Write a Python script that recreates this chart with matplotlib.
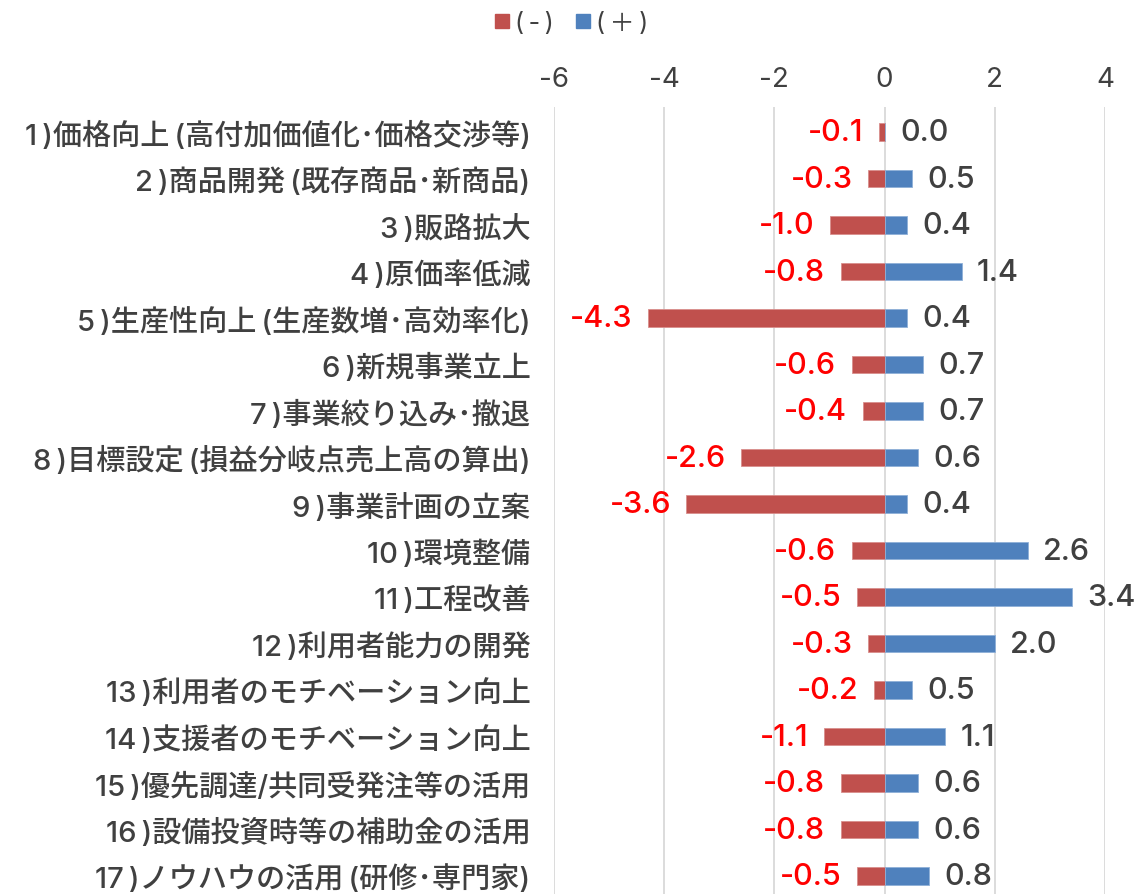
import matplotlib
matplotlib.use("Agg")
import matplotlib.pyplot as plt
from matplotlib.lines import Line2D

FONTS = ['Inter', 'Noto Sans CJK JP', 'DejaVu Sans']
plt.rcParams['font.family'] = FONTS

categories = [
    "1)価格向上(高付加価値化･価格交渉等)",
    "2)商品開発(既存商品･新商品)",
    "3)販路拡大",
    "4)原価率低減",
    "5)生産性向上(生産数増･高効率化)",
    "6)新規事業立上",
    "7)事業絞り込み･撤退",
    "8)目標設定(損益分岐点売上高の算出)",
    "9)事業計画の立案",
    "10)環境整備",
    "11)工程改善",
    "12)利用者能力の開発",
    "13)利用者のモチベーション向上",
    "14)支援者のモチベーション向上",
    "15)優先調達/共同受発注等の活用",
    "16)設備投資時等の補助金の活用",
    "17)ノウハウの活用(研修･専門家)",
]
negative = [-0.1, -0.3, -1.0, -0.8, -4.3, -0.6, -0.4, -2.6, -3.6,
            -0.6, -0.5, -0.3, -0.2, -1.1, -0.8, -0.8, -0.5]
positive = [0.0, 0.5, 0.4, 1.4, 0.4, 0.7, 0.7, 0.6, 0.4,
            2.6, 3.4, 2.0, 0.5, 1.1, 0.6, 0.6, 0.8]
series_names = ["(-)", "(＋)"]
x_ticks = [-6, -4, -2, 0, 2, 4]

RED = "#C0504D"
BLUE = "#4F81BD"
TEXT = "#404040"
THIN = "\u2009"


def spaced(label):
    # loosen the brackets a little so they sit like full-width punctuation
    num, rest = label.split(")", 1)
    return num + THIN + ")" + rest.replace("(", THIN + "(")


W, H = 1136, 895
fig = plt.figure(figsize=(W / 100, H / 100), dpi=100)
ax = fig.add_axes([554 / W, 0, (1105 - 554) / W, (895 - 108) / H])

y = list(range(len(categories)))
bar_h = 0.38
ax.barh(y, negative, height=bar_h, color=RED, edgecolor="#D98F8D", linewidth=0.6, zorder=3)
ax.barh(y, positive, height=bar_h, color=BLUE, edgecolor="#8FB0D8", linewidth=0.6, zorder=3)

for yi, v in zip(y, negative):
    ax.annotate(f"{v:.1f}", xy=(v, yi), xytext=(-11, 0), textcoords="offset points",
                ha="right", va="center", fontsize=22, color="#FF0000", fontweight=500)
for yi, v in zip(y, positive):
    ax.annotate(f"{v:.1f}", xy=(v, yi), xytext=(11, 0), textcoords="offset points",
                ha="left", va="center", fontsize=22, color=TEXT, fontweight=500)

ax.set_xlim(-6, 4)
ax.set_ylim(16.387, -0.538)
ax.set_xticks(x_ticks)
ax.set_xticklabels([str(t) for t in x_ticks], fontweight=400)
ax.xaxis.tick_top()
ax.tick_params(axis="x", length=0, pad=11, labelsize=20, labelcolor=TEXT)
ax.set_yticks(y)
ax.set_yticklabels([spaced(c) for c in categories], fontweight=500)
ax.tick_params(axis="y", length=0, pad=17, labelsize=21, labelcolor=TEXT)
ax.grid(axis="x", color="#D9D9D9", linewidth=1.3, zorder=0)
for s in ax.spines.values():
    s.set_visible(False)

handles = [Line2D([], [], marker="s", linestyle="none", markersize=10, color=RED),
           Line2D([], [], marker="s", linestyle="none", markersize=10, color=BLUE)]
legend_labels = ["(" + THIN + n[1:-1] + THIN + ")" for n in series_names]
fig.legend(handles, legend_labels, loc="center", bbox_to_anchor=(572 / W, 1 - 24 / H),
           ncol=2, frameon=False, handletextpad=0.25, columnspacing=0.9,
           labelcolor=TEXT, handlelength=0.55, prop={"size": 18, "weight": 400})

fig.savefig("out.png", dpi=100)
